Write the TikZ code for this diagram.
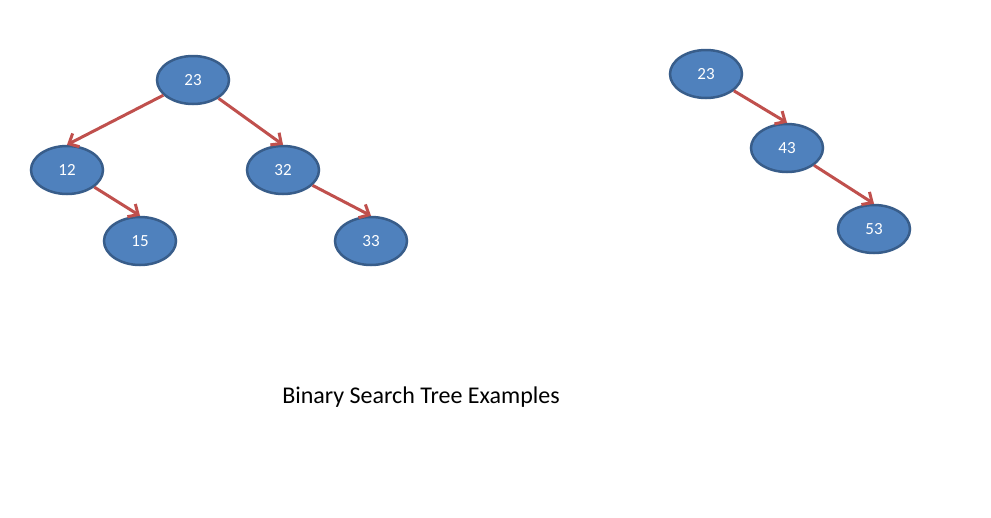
\documentclass[tikz,border=0pt]{standalone}
\usepackage{fontspec}
\setmainfont{Carlito}
\usetikzlibrary{arrows.meta,shapes.geometric}
\definecolor{nodefill}{HTML}{4F81BD}
\definecolor{nodeline}{HTML}{385D8A}
\definecolor{edgered}{HTML}{C0504D}
\tikzset{
  bst/.style={ellipse, draw=nodeline, fill=nodefill, line width=2.5pt,
    minimum width=72pt, minimum height=48pt, inner sep=0pt,
    text=white, font=\fontsize{17}{20}\selectfont},
  link/.style={draw=edgered, line width=3pt,
    -{Straight Barb[length=8pt,width=15pt,line width=3pt]}}
}
\begin{document}
\begin{tikzpicture}[x=1pt,y=-1pt]
\useasboundingbox[fill=white] (0,0) rectangle (991,517);
\node[bst] (a23) at (193,80) {23};
\node[bst] (a12) at (67,170) {12};
\node[bst] (a15) at (140,241) {15};
\node[bst] (a32) at (283,170) {32};
\node[bst] (a33) at (371,241) {33};
\node[bst] (b23) at (706,74) {23};
\node[bst] (b43) at (787,148) {43};
\node[bst] (b53) at (874,229) {53};
\draw[link] (a23) -- (a12.north);
\draw[link] (a23) -- (a32.north);
\draw[link] (a12) -- (a15.north);
\draw[link] (a32) -- (a33.north);
\draw[link] (b23) -- (b43.north);
\draw[link] (b43) -- (b53.north);
\node[font=\fontsize{24}{28}\selectfont] (cap) at (421,397) {Binary Search Tree Examples};
\end{tikzpicture}
\end{document}
